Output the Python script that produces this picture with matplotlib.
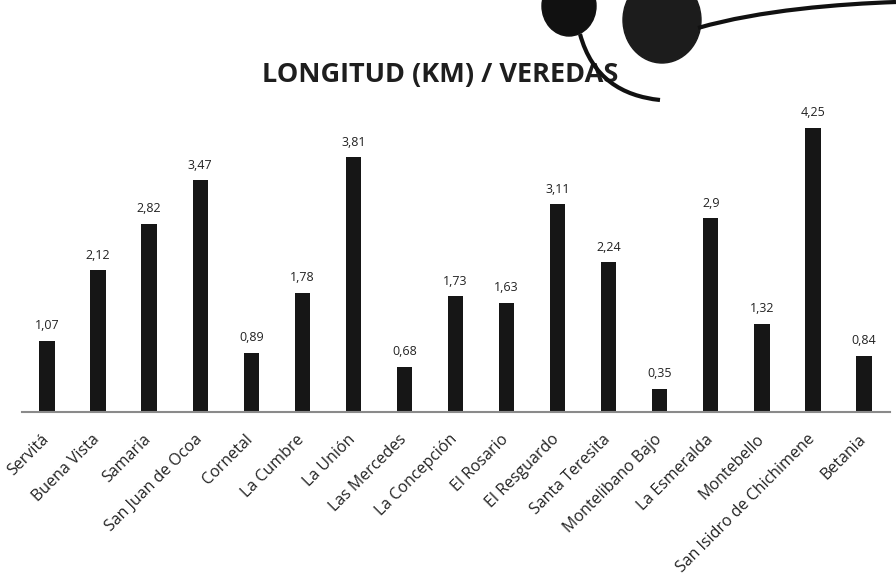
import matplotlib
matplotlib.use("Agg")
import matplotlib.pyplot as plt
from matplotlib.patches import Ellipse
from matplotlib.path import Path
from matplotlib.patches import PathPatch

veredas = ["Servitá", "Buena Vista", "Samaria", "San Juan de Ocoa", "Cornetal",
           "La Cumbre", "La Unión", "Las Mercedes", "La Concepción", "El Rosario",
           "El Resguardo", "Santa Teresita", "Montelibano Bajo", "La Esmeralda",
           "Montebello", "San Isidro de Chichimene", "Betania"]
longitud = [1.07, 2.12, 2.82, 3.47, 0.89, 1.78, 3.81, 0.68, 1.73, 1.63,
            3.11, 2.24, 0.35, 2.90, 1.32, 4.25, 0.84]
etiquetas = ["1,07", "2,12", "2,82", "3,47", "0,89", "1,78", "3,81", "0,68", "1,73",
             "1,63", "3,11", "2,24", "0,35", "2,9", "1,32", "4,25", "0,84"]

plt.rcParams['font.family'] = ['Open Sans', 'DejaVu Sans']

W, H = 896, 576
fig = plt.figure(figsize=(8.96, 5.76), dpi=100)
ax = fig.add_axes([21.5 / W, 1 - 412 / H, 868 / W, (412 - 111.4) / H])

x = range(len(veredas))
ax.bar(x, longitud, width=0.3, color="#161616", zorder=2)
for xi, v, t in zip(x, longitud, etiquetas):
    ax.text(xi, v + 0.13, t, ha="center", va="bottom", fontsize=9, color="#222222")

ax.set_xlim(-0.5, len(veredas) - 0.5)
ax.set_ylim(0, 4.5)
ax.set_yticks([])
ax.set_xticks([xi - 0.12 for xi in x])
ax.set_xticklabels(veredas, rotation=45, ha="right", rotation_mode="anchor",
                   fontsize=11.5, color="#222222")
ax.tick_params(axis="x", length=0, pad=14)
for s in ["top", "right", "left"]:
    ax.spines[s].set_visible(False)
ax.spines["bottom"].set_color("#8a8a8a")
ax.spines["bottom"].set_linewidth(1.5)

fig.text(440 / W, 1 - 75 / H, "LONGITUD (KM) / VEREDAS",
         ha="center", va="center", fontsize=19.5, fontweight="bold", color="#1e1e1e")

# decoraciones de la esquina superior derecha
def px(xp, yp):
    return (xp / W, 1 - yp / H)

fig.patches.append(Ellipse(px(569, 6), 54 / W, 60 / H, transform=fig.transFigure,
                           color="#111111", zorder=5))
fig.patches.append(Ellipse(px(662, 20), 78 / W, 86 / H, transform=fig.transFigure,
                           color="#1c1c1c", zorder=5))
curva = Path([px(580, 34), px(592, 78), px(622, 96), px(660, 100)],
             [Path.MOVETO, Path.CURVE4, Path.CURVE4, Path.CURVE4])
fig.patches.append(PathPatch(curva, transform=fig.transFigure, fill=False,
                             lw=3, color="#111111", zorder=5))
linea = Path([px(698, 28), px(760, 10), px(840, 4), px(896, 2)],
             [Path.MOVETO, Path.CURVE4, Path.CURVE4, Path.CURVE4])
fig.patches.append(PathPatch(linea, transform=fig.transFigure, fill=False,
                             lw=3, color="#111111", zorder=5))

fig.savefig("out.png", dpi=100)
